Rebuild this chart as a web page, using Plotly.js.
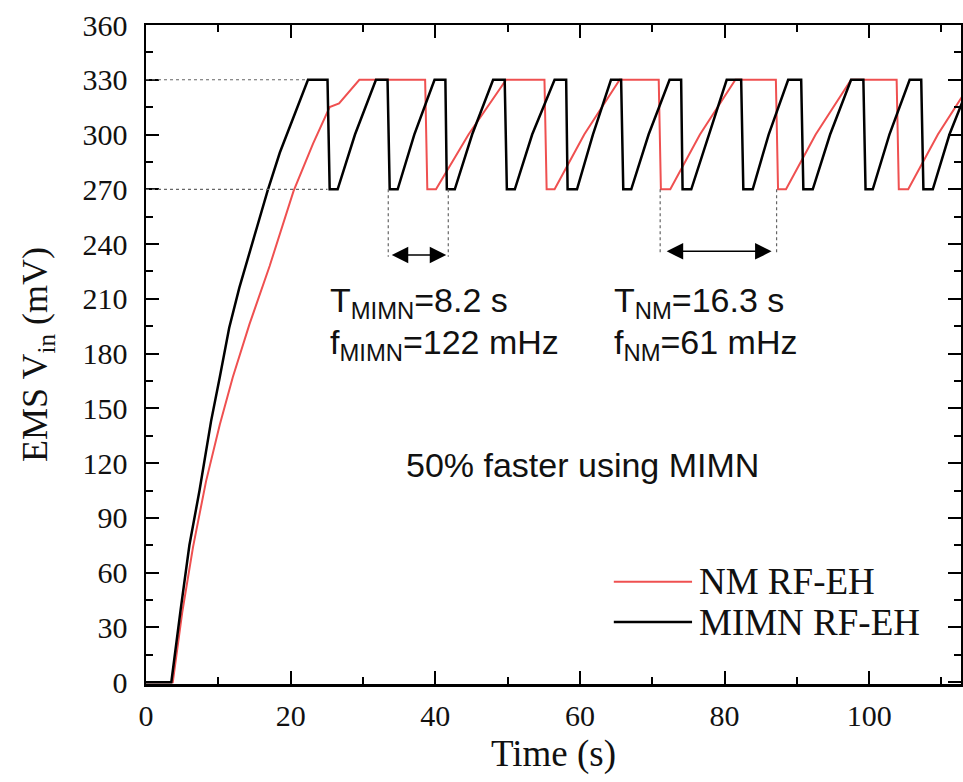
<!DOCTYPE html>
<html>
<head>
<meta charset="utf-8">
<script src="https://cdn.plot.ly/plotly-3.0.1.min.js"></script>
<style>html,body{margin:0;padding:0;background:#fff;}#chart{width:963px;height:782px;}</style>
</head>
<body>
<div id="chart"></div>
<script>
// ---- Data ----
// MIMN RF-EH (black)
const mimnTime = [0, 3.5, 4.8, 6.0, 7.4, 9.0, 10.2, 11.5, 12.9, 14.8, 16.8, 18.5, 20.5, 22.4,
  25.1, 25.4, 26.5, 28.9, 31.8,
  33.4, 33.7, 34.8, 37.1, 39.9,
  41.4, 41.6, 42.7, 45.1, 48.0,
  49.6, 49.9, 51.0, 53.4, 56.5,
  58.1, 58.3, 59.6, 61.8, 64.3,
  65.7, 66.0, 67.1, 69.5, 72.4,
  74.0, 74.2, 75.4, 77.8, 80.3,
  82.3, 82.6, 83.9, 86.1, 88.8,
  90.6, 90.9, 92.2, 94.6, 97.5,
  99.2, 99.5, 100.5, 102.8, 105.6,
  107.2, 107.5, 108.8, 111.1, 112.9];
const mimnVin = [0, 0, 40, 75, 105, 143, 167, 194, 216, 242, 269, 290, 311, 330,
  330, 270, 270, 300, 330,
  330, 270, 270, 300, 330,
  330, 270, 270, 300, 330,
  330, 270, 270, 300, 330,
  330, 270, 270, 300, 330,
  330, 270, 270, 300, 330,
  330, 270, 270, 300, 330,
  330, 270, 270, 300, 330,
  330, 270, 270, 300, 330,
  330, 270, 270, 300, 330,
  330, 270, 270, 300, 318];

// NM RF-EH (red)
const nmTime = [0, 3.7, 5.0, 6.5, 8.3, 10.2, 12.0, 14.3, 17.1, 20.4, 23.1, 25.4, 26.7, 29.5,
  38.6, 38.9, 40.1, 44.6, 49.8,
  55.1, 55.4, 56.5, 60.6, 65.5,
  70.9, 71.2, 72.5, 76.6, 81.5,
  87.1, 87.4, 88.5, 92.6, 97.5,
  103.8, 104.1, 105.4, 109.5, 112.9];
const nmVin = [0, 0, 38, 74, 110, 141, 167, 196, 228, 269, 295, 315, 317, 330,
  330, 270, 270, 300, 330,
  330, 270, 270, 300, 330,
  330, 270, 270, 300, 330,
  330, 270, 270, 300, 330,
  330, 270, 270, 300, 321];

const seriesNames = ["NM RF-EH", "MIMN RF-EH"];
const yTicks = [0, 30, 60, 90, 120, 150, 180, 210, 240, 270, 300, 330, 360];
const xTicks = [0, 20, 40, 60, 80, 100];

// guide lines / period markers
const guideLevels = [330, 270];
const guideEnds = [22.2, 25.1];
const periodMIMN = [33.5, 41.8];
const periodNM = [71.1, 87.2];
const periodLevelMIMN = 234;
const periodLevelNM = 236;

// ---- Chart ----
const serif = "Liberation Serif, Times New Roman, serif";
const sans = "Liberation Sans, Arial, sans-serif";
const redCol = "#ef5050";

const traces = [
  {x: nmTime, y: nmVin, name: seriesNames[0], mode: "lines", line: {color: redCol, width: 2}, showlegend: false},
  {x: mimnTime, y: mimnVin, name: seriesNames[1], mode: "lines", line: {color: "#000000", width: 2.5}, showlegend: false}
];

const dotLine = {color: "#666", width: 1.2, dash: "dot"};
const shapes = [];
guideLevels.forEach((lv, i) => {
  shapes.push({type: "line", xref: "x", yref: "y", x0: 0, x1: guideEnds[i], y0: lv, y1: lv, line: dotLine});
});
periodMIMN.forEach(t => shapes.push({type: "line", xref: "x", yref: "y", x0: t, x1: t, y0: guideLevels[1], y1: periodLevelMIMN - 1, line: dotLine}));
periodNM.forEach(t => shapes.push({type: "line", xref: "x", yref: "y", x0: t, x1: t, y0: guideLevels[1], y1: periodLevelNM - 1, line: dotLine}));
// custom legend line samples
const legColors = [redCol, "#000000"];
const legY = [0.155, 0.094];
legY.forEach((yy, i) => shapes.push({type: "line", xref: "paper", yref: "paper", x0: 0.574, x1: 0.670, y0: yy, y1: yy,
  line: {color: legColors[i], width: i === 0 ? 2 : 2.5}}));

const annF = {family: sans, size: 34, color: "#111"};
const arrowCommon = {axref: "x", ayref: "y", xref: "x", yref: "y", text: "", showarrow: true,
  arrowside: "end+start", arrowhead: 2, startarrowhead: 2, arrowsize: 2.2, startarrowsize: 2.2,
  arrowwidth: 1.5, arrowcolor: "#000"};
const annotations = [
  Object.assign({x: periodMIMN[1], y: periodLevelMIMN, ax: periodMIMN[0], ay: periodLevelMIMN, standoff: 2, startstandoff: 2}, arrowCommon),
  Object.assign({x: periodNM[1], y: periodLevelNM, ax: periodNM[0], ay: periodLevelNM, standoff: 5, startstandoff: 5}, arrowCommon),
  {x: 25.2, y: 208, xref: "x", yref: "y", xanchor: "left", yanchor: "middle", showarrow: false, text: "T<sub>MIMN</sub>=8.2 s", font: annF},
  {x: 25.2, y: 185, xref: "x", yref: "y", xanchor: "left", yanchor: "middle", showarrow: false, text: "f<sub>MIMN</sub>=122 mHz", font: annF},
  {x: 64.5, y: 208, xref: "x", yref: "y", xanchor: "left", yanchor: "middle", showarrow: false, text: "T<sub>NM</sub>=16.3 s", font: annF},
  {x: 64.5, y: 185, xref: "x", yref: "y", xanchor: "left", yanchor: "middle", showarrow: false, text: "f<sub>NM</sub>=61 mHz", font: annF},
  {x: 60.4, y: 119, xref: "x", yref: "y", xanchor: "center", yanchor: "middle", showarrow: false, text: "50% faster using MIMN", font: annF},
  {x: 0.676, y: legY[0], xref: "paper", yref: "paper", xanchor: "left", yanchor: "middle", showarrow: false, text: seriesNames[0], font: {family: serif, size: 37, color: "#111"}},
  {x: 0.676, y: legY[1], xref: "paper", yref: "paper", xanchor: "left", yanchor: "middle", showarrow: false, text: seriesNames[1], font: {family: serif, size: 37, color: "#111"}}
];

const axisCommon = {
  showline: true, linecolor: "#000", linewidth: 2.5, mirror: "ticks",
  ticks: "inside", ticklen: 13, tickwidth: 2, tickcolor: "#000",
  showgrid: false, zeroline: false,
  tickfont: {family: serif, size: 30, color: "#111"}
};

const layout = {
  width: 963, height: 782,
  margin: {l: 146, r: 2, t: 25, b: 98},
  paper_bgcolor: "#fff", plot_bgcolor: "#fff",
  showlegend: false,
  xaxis: Object.assign({}, axisCommon, {
    range: [0, 112.7], tickvals: xTicks, ticktext: xTicks.map(String),
    minor: {dtick: 10, tick0: 0, ticks: "inside", ticklen: 7, tickwidth: 2, tickcolor: "#000"},
    ticklabelstandoff: 3,
    title: {text: "Time (s)", font: {family: serif, size: 37, color: "#111"}, standoff: 10}
  }),
  yaxis: Object.assign({}, axisCommon, {
    range: [-1, 360], tickvals: yTicks, ticktext: yTicks.map(String),
    minor: {dtick: 15, tick0: 0, ticks: "inside", ticklen: 7, tickwidth: 2, tickcolor: "#000"},
    ticklabelstandoff: 10,
    title: {text: "EMS V<sub>in</sub> (mV)", font: {family: serif, size: 36, color: "#111"}, standoff: 24}
  }),
  shapes: shapes,
  annotations: annotations
};

Plotly.newPlot("chart", traces, layout, {staticPlot: true, displayModeBar: false});
</script>
</body>
</html>
